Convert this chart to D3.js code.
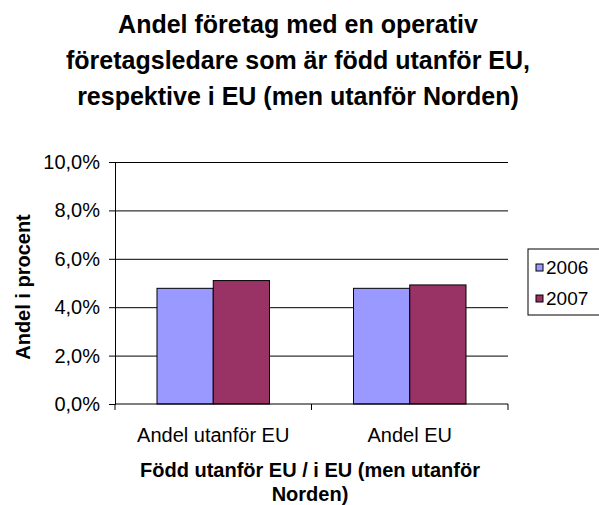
<!DOCTYPE html>
<html>
<head>
<meta charset="utf-8">
<script src="https://cdn.jsdelivr.net/npm/d3@7"></script>
<style>
  body { margin: 0; background: #fff; }
  text { font-family: 'Liberation Sans', Arial, sans-serif; fill: #000; }
</style>
</head>
<body>
<div id="chart"></div>
<script>
const categories = ['Andel utanför EU', 'Andel EU'];
const years = ['2006', '2007'];
const values2006 = [4.78, 4.78];
const values2007 = [5.10, 4.92];
const yTicks = [0, 2, 4, 6, 8, 10];
const colors = ['#9999ff', '#993366'];

const titleLines = [
  'Andel företag med en operativ',
  'företagsledare som är född utanför EU,',
  'respektive i EU (men utanför Norden)'
];
const xTitleLines = ['Född utanför EU / i EU (men utanför', 'Norden)'];
const yTitle = 'Andel i procent';

const W = 599;
const H = 505;
const plot = { left: 115, right: 508, top: 162, bottom: 404 };
const font = "'Liberation Sans', Arial, sans-serif";

const svg = d3.select('#chart')
  .append('svg')
    .attr('width', W)
    .attr('height', H);

const x0 = d3.scaleBand()
  .domain(categories)
  .range([plot.left, plot.right])
  .padding(0);

const x1 = d3.scaleBand()
  .domain(years)
  .range([42, x0.bandwidth() - 42]);

const y = d3.scaleLinear()
  .domain([0, 10])
  .range([plot.bottom, plot.top]);

// gridlines
svg.append('g')
    .attr('transform', `translate(${plot.left},0)`)
  .call(d3.axisLeft(y).tickValues(yTicks.slice(1)).tickSize(-(plot.right - plot.left)).tickFormat(''))
  .call(g => g.select('.domain').remove())
  .call(g => g.selectAll('line').attr('stroke', '#000').attr('stroke-width', 1));

// bars
const rows = categories.map((c, i) => ({ cat: c, vals: [values2006[i], values2007[i]] }));

const groups = svg.selectAll('.grp')
  .data(rows)
  .enter()
  .append('g')
    .attr('class', 'grp')
    .attr('transform', d => `translate(${x0(d.cat)},0)`);

groups.selectAll('rect')
  .data(d => d.vals.map((v, j) => ({ year: years[j], v, j })))
  .enter()
  .append('rect')
    .attr('x', d => x1(d.year))
    .attr('y', d => y(d.v))
    .attr('width', x1.bandwidth())
    .attr('height', d => y(0) - y(d.v))
    .attr('fill', d => colors[d.j])
    .attr('stroke', '#000')
    .attr('stroke-width', 1);

// y axis
svg.append('g')
    .attr('transform', `translate(${plot.left},0)`)
  .call(d3.axisLeft(y)
    .tickValues(yTicks)
    .tickSize(6)
    .tickPadding(9)
    .tickFormat(d => d.toFixed(1).replace('.', ',') + '%'))
  .call(g => g.selectAll('line, path').attr('stroke', '#000'))
  .call(g => g.selectAll('text').attr('font-size', 20).attr('font-family', font).attr('fill', '#000'));

// x axis
svg.append('line')
    .attr('x1', plot.left).attr('x2', plot.right)
    .attr('y1', plot.bottom).attr('y2', plot.bottom)
    .attr('stroke', '#000');

const xBounds = categories.map(c => x0(c)).concat([x0(categories[categories.length - 1]) + x0.bandwidth()]);
svg.selectAll('.xtick')
  .data(xBounds)
  .enter()
  .append('line')
    .attr('class', 'xtick')
    .attr('x1', d => d).attr('x2', d => d)
    .attr('y1', plot.bottom).attr('y2', plot.bottom + 6)
    .attr('stroke', '#000');

svg.selectAll('.xlab')
  .data(categories)
  .enter()
  .append('text')
    .attr('class', 'xlab')
    .attr('x', d => x0(d) + x0.bandwidth() / 2)
    .attr('y', 442)
    .attr('text-anchor', 'middle')
    .attr('font-size', 20)
    .text(d => d);

// titles
svg.append('text')
    .attr('text-anchor', 'middle')
    .attr('font-size', 25)
    .attr('font-weight', 'bold')
  .selectAll('tspan')
  .data(titleLines)
  .enter()
  .append('tspan')
    .attr('x', 298)
    .attr('y', (d, i) => 33 + i * 36)
    .text(d => d);

svg.append('text')
    .attr('text-anchor', 'middle')
    .attr('font-size', 20)
    .attr('font-weight', 'bold')
  .selectAll('tspan')
  .data(xTitleLines)
  .enter()
  .append('tspan')
    .attr('x', 310)
    .attr('y', (d, i) => 477 + i * 24)
    .text(d => d);

svg.append('text')
    .attr('transform', 'translate(30,287) rotate(-90)')
    .attr('text-anchor', 'middle')
    .attr('font-size', 20)
    .attr('font-weight', 'bold')
    .text(yTitle);

// legend
const legend = svg.append('g').attr('transform', 'translate(528,249)');
legend.append('rect')
    .attr('width', 80).attr('height', 66)
    .attr('fill', '#fff').attr('stroke', '#000');

const items = legend.selectAll('.li')
  .data(years)
  .enter()
  .append('g')
    .attr('class', 'li')
    .attr('transform', (d, i) => `translate(0,${18.5 + i * 31})`);

items.append('rect')
    .attr('x', 8).attr('y', -3.5)
    .attr('width', 7).attr('height', 7)
    .attr('fill', (d, i) => colors[i])
    .attr('stroke', '#000');

items.append('text')
    .attr('x', 18)
    .attr('y', 6)
    .attr('font-size', 19)
    .text(d => d);
</script>
</body>
</html>
